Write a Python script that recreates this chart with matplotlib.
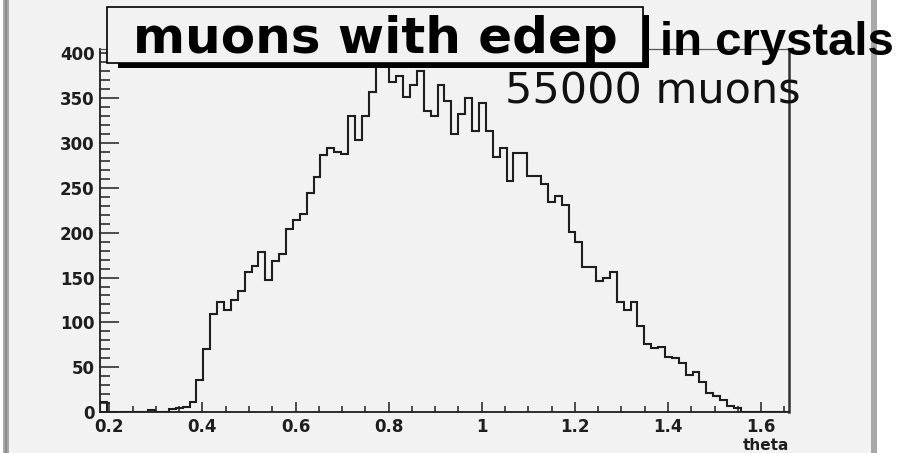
import numpy as np
import matplotlib.pyplot as plt
from matplotlib.patches import Rectangle
from matplotlib.ticker import MultipleLocator

# theta of muons that deposit energy, 100 bins
theta_lo, theta_hi = 0.18, 1.66
counts = [
    11, 0, 0, 0, 0, 0, 0, 2, 0, 0,
    3, 4, 6, 11, 36, 70, 109, 123, 114, 125,
    135, 156, 163, 178, 147, 168, 176, 204, 214, 221,
    244, 262, 287, 294, 290, 288, 330, 303, 330, 357,
    386, 385, 368, 375, 352, 365, 380, 336, 330, 365,
    347, 310, 333, 350, 313, 345, 313, 285, 294, 258,
    289, 289, 263, 263, 254, 234, 241, 231, 201, 190,
    162, 162, 146, 150, 156, 123, 114, 123, 96, 76,
    71, 72, 61, 60, 55, 41, 45, 33, 21, 18,
    13, 7, 5, 0, 0, 0, 0, 0, 0, 0,
]
edges = np.linspace(theta_lo, theta_hi, len(counts) + 1)

x_ticks = [0.2, 0.4, 0.6, 0.8, 1.0, 1.2, 1.4, 1.6]
x_ticklabels = ['0.2', '0.4', '0.6', '0.8', '1', '1.2', '1.4', '1.6']
y_ticks = [0, 50, 100, 150, 200, 250, 300, 350, 400]

W, H = 899, 453
bg = '#f2f2f2'
ink = '#1e1e1e'

fig = plt.figure(figsize=(W / 100, H / 100), dpi=100)
fig.patch.set_facecolor('white')


def box(x0, y0, x1, y1, **kw):
    # pixel box, origin top-left -> figure fraction rectangle
    r = Rectangle((x0 / W, 1 - y1 / H), (x1 - x0) / W, (y1 - y0) / H,
                  transform=fig.transFigure, **kw)
    fig.add_artist(r)
    return r


# canvas panel with grey side borders
box(9, 0, 872, H, facecolor=bg, edgecolor='none', zorder=-2)
box(3, 0, 9, H, facecolor='#a8a8a8', edgecolor='none', zorder=-2)
box(5, 0, 7, H, facecolor='#8a8a8a', edgecolor='none', zorder=-2)
box(871, 0, 877, H, facecolor='#a8a8a8', edgecolor='none', zorder=-2)

ax = fig.add_axes([100 / W, 1 - 412 / H, 689 / W, 363 / H])
ax.set_facecolor(bg)

ax.stairs(counts, edges, color=ink, linewidth=1.5)

ax.set_xlim(theta_lo, theta_hi)
ax.set_ylim(0, 405)

ax.set_xticks(x_ticks)
ax.set_xticklabels(x_ticklabels)
ax.set_yticks(y_ticks)
ax.xaxis.set_minor_locator(MultipleLocator(0.05))
ax.yaxis.set_minor_locator(MultipleLocator(10))

ax.tick_params(which='both', direction='in', color=ink, width=1.1,
               labelsize=12, labelcolor=ink, top=False, right=False)
ax.tick_params(axis='y', which='major', length=14, pad=4)
ax.tick_params(axis='y', which='minor', length=7)
ax.tick_params(axis='x', which='major', length=7, pad=4)
ax.tick_params(axis='x', which='minor', length=4.5)
for lab in ax.get_xticklabels() + ax.get_yticklabels():
    lab.set_fontweight('bold')

for side in ['left', 'bottom']:
    ax.spines[side].set_color(ink)
    ax.spines[side].set_linewidth(1.3)
ax.spines['right'].set_color('#333333')
ax.spines['right'].set_linewidth(1.8)
ax.spines['top'].set_color('#555555')
ax.spines['top'].set_linewidth(0.9)

ax.set_xlabel('theta', loc='right', fontsize=11, fontweight='bold',
              color=ink, labelpad=2)

# title pave with shadow
box(118, 15, 649, 68, facecolor='black', edgecolor='none', zorder=4)
box(107, 7, 643, 63, facecolor=bg, edgecolor='black', linewidth=1.2, zorder=5)
fig.text(375 / W, 1 - 53 / H, 'muons with edep', ha='center', va='baseline',
         fontsize=36, fontweight='bold', family='DejaVu Sans', zorder=6)

fig.text(660 / W, 1 - 55 / H, 'in crystals', ha='left', va='baseline',
         fontsize=34, fontweight='bold', family='Liberation Sans', zorder=6)
fig.text(653 / W, 1 - 103 / H, '55000 muons', ha='center', va='baseline',
         fontsize=31, family='DejaVu Sans', color='#111111', zorder=6)

fig.savefig('out.png', dpi=100, facecolor=fig.get_facecolor())
